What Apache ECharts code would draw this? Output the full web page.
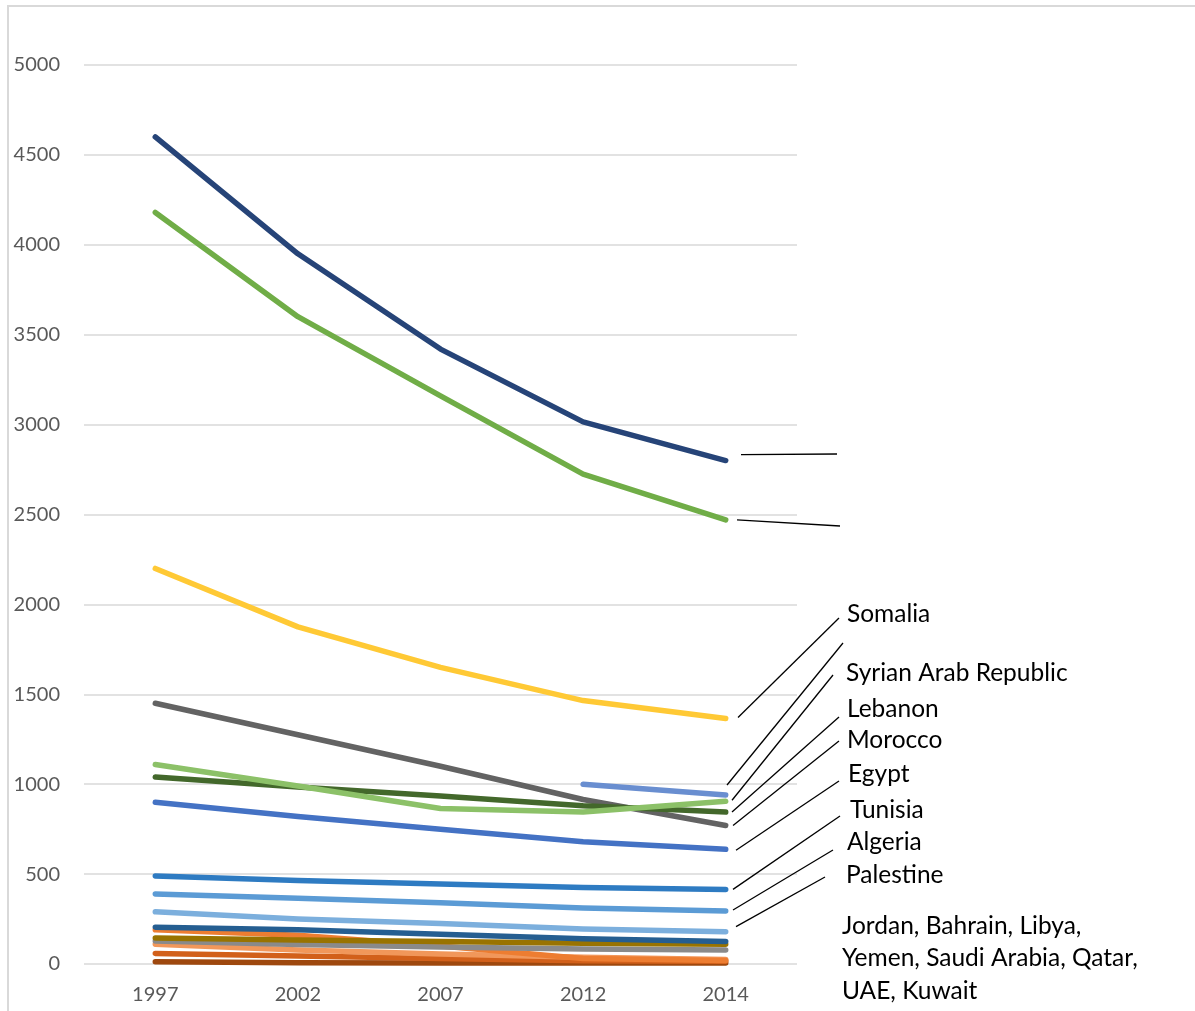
<!DOCTYPE html>
<html>
<head>
<meta charset="utf-8">
<script src="https://cdn.jsdelivr.net/npm/echarts@6/dist/echarts.min.js"></script>
<style>
html,body{margin:0;padding:0;background:#fff;}
#chart{width:1195px;height:1011px;}
</style>
</head>
<body>
<div id="chart"></div>
<script>
const years = ['1997', '2002', '2007', '2012', '2014'];
const yTicks = [0, 500, 1000, 1500, 2000, 2500, 3000, 3500, 4000, 4500, 5000];

const sNavy      = [4600, 3950, 3420, 3015, 2800];
const sGreen     = [4180, 3600, 3160, 2725, 2470];
const sSomalia   = [2200, 1875, 1650, 1465, 1365];
const sSegment   = [null, null, null, 1000, 940];
const sSyria     = [1110, 990, 865, 845, 905];
const sLebanon   = [1040, 985, 935, 880, 845];
const sMorocco   = [1450, 1275, 1100, 915, 770];
const sEgypt     = [900, 820, 750, 680, 638];
const sTunisia   = [490, 465, 445, 425, 415];
const sAlgeria   = [390, 365, 340, 312, 295];
const sPalestine = [290, 250, 225, 195, 180];
const sJordan    = [205, 190, 165, 140, 125];
const sBahrain   = [190, 160, 100, 30, 20];
const sLibya     = [145, 133, 125, 115, 110];
const sYemen     = [128, 109, 95, 83, 78];
const sSaudi     = [110, 78, 55, 37, 25];
const sQatar     = [59, 44, 30, 18, 15];
const sUAE       = [13, 7, 6, 5, 5];

const labelTexts = ['Somalia', 'Syrian Arab Republic', 'Lebanon', 'Morocco', 'Egypt', 'Tunisia', 'Algeria', 'Palestine'];
const groupLabel = ['Jordan, Bahrain, Libya,', 'Yemen, Saudi Arabia, Qatar,', 'UAE, Kuwait'];

function mk(name, data, color) {
  return {
    name: name, type: 'line', data: data, symbol: 'none', smooth: false,
    connectNulls: false, silent: true,
    lineStyle: {width: 5.5, color: color, cap: 'round', join: 'round'},
    itemStyle: {color: color}
  };
}

const series = [
  mk('UAE', sUAE, '#9E480E'),
  mk('Qatar', sQatar, '#D2601A'),
  mk('Saudi Arabia', sSaudi, '#F1975A'),
  mk('Bahrain', sBahrain, '#ED7D31'),
  mk('Yemen', sYemen, '#8A8A8A'),
  mk('Libya', sLibya, '#997300'),
  mk('Jordan', sJordan, '#255E91'),
  mk('Palestine', sPalestine, '#7CAFDD'),
  mk('Algeria', sAlgeria, '#5B9BD5'),
  mk('Tunisia', sTunisia, '#2E7BC2'),
  mk('Egypt', sEgypt, '#4472C4'),
  mk('Morocco', sMorocco, '#636363'),
  mk('Lebanon', sLebanon, '#43682B'),
  mk('Syrian Arab Republic', sSyria, '#8CC168'),
  mk('Unlabelled C', sSegment, '#698ED0'),
  mk('Somalia', sSomalia, '#FFC935'),
  mk('Unlabelled B', sGreen, '#70AD47'),
  mk('Unlabelled A', sNavy, '#264478')
];

const chart = echarts.init(document.getElementById('chart'));
const FONT = 'Lato, "Open Sans", sans-serif';

chart.setOption({
  animation: false,
  backgroundColor: '#ffffff',
  grid: {left: 84, right: 398, top: 65, bottom: 47, containLabel: false},
  xAxis: {
    type: 'category', data: years, boundaryGap: true,
    axisLine: {show: false}, axisTick: {show: false},
    axisLabel: {color: '#595959', fontSize: 20, fontFamily: FONT, margin: 21}
  },
  yAxis: {
    type: 'value', min: yTicks[0], max: yTicks[yTicks.length - 1], interval: 500,
    axisLine: {show: false}, axisTick: {show: false},
    axisLabel: {color: '#595959', fontSize: 20, fontFamily: FONT, margin: 24,
      formatter: function (v) { return String(v); }},
    splitLine: {lineStyle: {color: '#D9D9D9', width: 1.5}}
  },
  series: series
});

function endPx(data) {
  return chart.convertToPixel({xAxisIndex: 0, yAxisIndex: 0}, [years[years.length - 1], data[data.length - 1]]);
}
const leaders = [
  {data: sNavy,      from: [741, -6],  to: [837, 454]},
  {data: sGreen,     from: [737, 0],   to: [840, 526]},
  {data: sSomalia,   from: [738, -1],  to: [839, 618]},
  {data: sSegment,   from: [727, -10], to: [843, 643]},
  {data: sSyria,     from: [732, -1],  to: [833, 675]},
  {data: sLebanon,   from: [732, 0],   to: [839, 717]},
  {data: sMorocco,   from: [733, 0],   to: [839, 741]},
  {data: sEgypt,     from: [736, 1],   to: [839, 781]},
  {data: sTunisia,   from: [733, 0],   to: [840, 816]},
  {data: sAlgeria,   from: [733, -1],  to: [833, 850]},
  {data: sPalestine, from: [736, -5],  to: [825, 877]}
];
const graphics = [];
graphics.push({
  type: 'rect', shape: {x: 8, y: 6, width: 1400, height: 1200},
  style: {fill: 'none', stroke: '#D9D9D9', lineWidth: 2}, z: -1, silent: true
});
leaders.forEach(function (l) {
  const p = endPx(l.data);
  graphics.push({
    type: 'line', silent: true, z: 10,
    shape: {x1: l.from[0], y1: p[1] + l.from[1], x2: l.to[0], y2: l.to[1]},
    style: {stroke: '#000000', lineWidth: 1.3}
  });
});
const labelPos = [[847, 614], [846, 673], [847, 709], [847, 740], [848, 774], [850, 810], [847, 842], [846, 875]];
labelTexts.forEach(function (t, i) {
  graphics.push({
    type: 'text', silent: true, z: 10,
    style: {x: labelPos[i][0], y: labelPos[i][1], text: t, fill: '#000000', font: '24.5px ' + FONT, verticalAlign: 'middle', align: 'left'}
  });
});
groupLabel.forEach(function (t, i) {
  graphics.push({
    type: 'text', silent: true, z: 10,
    style: {x: 842, y: 926 + i * 32.5, text: t, fill: '#000000', font: '24.5px ' + FONT, verticalAlign: 'middle', align: 'left'}
  });
});
chart.setOption({graphic: graphics});
</script>
</body>
</html>
